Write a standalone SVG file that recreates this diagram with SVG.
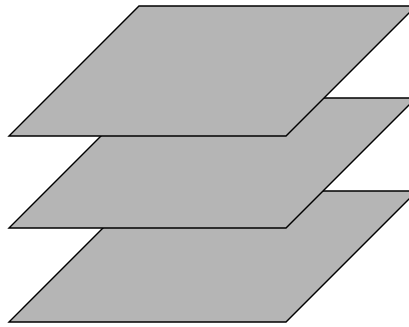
<svg xmlns="http://www.w3.org/2000/svg" width="409" height="327" viewBox="0 0 409 327">
<style>
.plane{fill:#b5b5b5;stroke:#000;stroke-width:1.4;stroke-linejoin:miter}
</style>
<rect width="409" height="327" fill="#fff"/>
<g id="plane3"><polygon class="plane" points="9,322 140,191 417,191 286,322"/></g>
<g id="plane2"><polygon class="plane" points="9,228 139,98 416,98 286,228"/></g>
<g id="plane1"><polygon class="plane" points="9,136 139,6 416,6 286,136"/></g>
<g id="connectors"></g>
</svg>
